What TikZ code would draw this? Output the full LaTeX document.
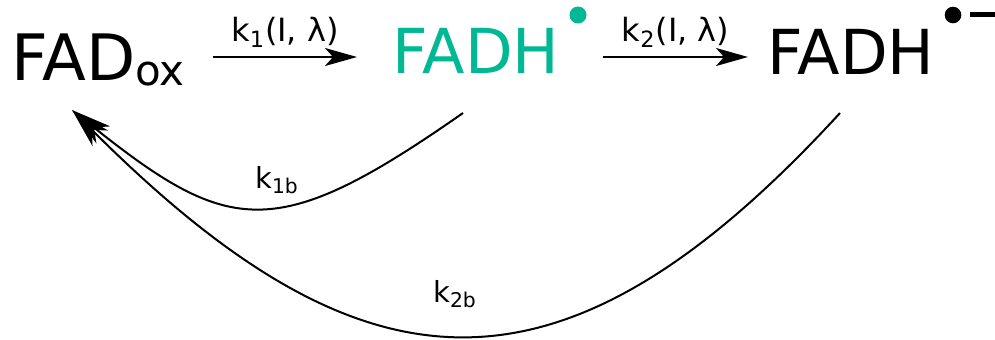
\documentclass[tikz,border=0pt]{standalone}
\usepackage{fontspec}
\setmainfont{DejaVu Sans}
\usepackage{tikz}
\usetikzlibrary{arrows.meta,positioning,calc}
\usepackage{xcolor}
\definecolor{semicol}{RGB}{0,184,148}
\tikzset{
  % species label
  species/.style={anchor=base, inner sep=0pt, font=\fontsize{31}{31}\selectfont, #1},
  species/.default={black},
  % forward (light driven) step
  fwdarrow/.style={-{Stealth[length=16pt,width=9pt,inset=4pt]}, line width=1pt},
  % back reaction
  backarrow/.style={-{Stealth[length=20pt,width=11pt,inset=6pt]}, line width=1pt},
  % rate label
  ratelabel/.style={font=\fontsize{16}{16}\selectfont, inner sep=4.5pt},
  backlabel/.style={font=\fontsize{14.5}{14.5}\selectfont, anchor=base, inner sep=0pt},
}

\begin{document}
\begin{tikzpicture}[x=0.5pt, y=-0.5pt]
  \useasboundingbox (0,0) rectangle (995,339);

  % species
  \node[species] (fadox) at (98,80) {\fontsize{32}{32}\selectfont FAD\raisebox{-2.5pt}{\fontsize{21}{21}\selectfont ox}};
  \node[species=semicol] (fadh) at (476,73) {FADH};
  \node[species] (fadhr) at (851,74) {FADH};

  % radical dots and charge
  \fill[semicol] (578,15) circle (8.5);
  \fill (953,15) circle (8.3);
  \fill (970,11.7) rectangle (995,17.3);

  % forward steps
  \coordinate (k1from) at (213,57);
  \coordinate (k1to) at (357,57);
  \draw[fwdarrow] (k1from) -- (k1to) node[midway,above,ratelabel]{k\textsubscript{1}(I, λ)};

  \coordinate (k2from) at (603,57);
  \coordinate (k2to) at (748,57);
  \draw[fwdarrow] (k2from) -- (k2to) node[midway,above,ratelabel]{k\textsubscript{2}(I, λ)};

  % back reactions
  \coordinate (k1bfrom) at (463,113);
  \coordinate (k2bfrom) at (840,113);
  \coordinate (backtip) at (72,110);
  \draw[backarrow] (k2bfrom) .. controls (560,418) and (363,401) .. (backtip);
  \draw[backarrow] (k1bfrom) .. controls (277,243) and (230,236) .. (backtip);

  \node[backlabel] (k1b) at (277,188) {k\textsubscript{1b}};
  \node[backlabel] (k2b) at (455,302) {k\textsubscript{2b}};
\end{tikzpicture}
\end{document}
